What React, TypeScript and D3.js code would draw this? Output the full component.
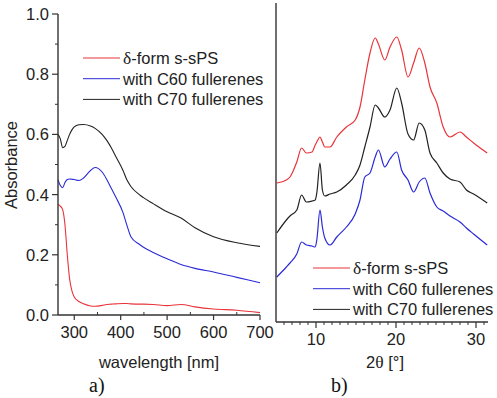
import * as d3 from 'd3'

// UV-vis absorbance (panel a)
const wavelength = [265, 270, 275, 280, 285, 290, 295, 300, 310, 320, 335, 345, 360, 370, 380, 390, 405, 413, 422, 440, 449, 470, 500, 530, 560, 600, 650, 700]
const absPS = [0.367, 0.362, 0.35, 0.3, 0.2, 0.12, 0.08, 0.06, 0.045, 0.037, 0.03, 0.029, 0.032, 0.035, 0.036, 0.037, 0.038, 0.038, 0.037, 0.036, 0.036, 0.035, 0.031, 0.035, 0.027, 0.02, 0.016, 0.008]
const absC60 = [0.45, 0.43, 0.423, 0.44, 0.45, 0.452, 0.451, 0.45, 0.447, 0.455, 0.48, 0.49, 0.475, 0.45, 0.42, 0.39, 0.34, 0.3, 0.26, 0.235, 0.225, 0.208, 0.187, 0.168, 0.155, 0.143, 0.125, 0.107]
const absC70 = [0.6, 0.585, 0.556, 0.56, 0.58, 0.6, 0.615, 0.625, 0.632, 0.633, 0.628, 0.62, 0.6, 0.58, 0.555, 0.525, 0.48, 0.45, 0.427, 0.4, 0.39, 0.37, 0.343, 0.322, 0.29, 0.26, 0.24, 0.228]

// XRD patterns (panel b), intensity in a.u.
const twoTheta = [5.1, 6.3, 6.75, 7.6, 8.2, 8.8, 9.5, 9.9, 10.1, 10.5, 10.8, 11.1, 11.75, 12.6, 13.8, 14.9, 15.5, 16.1, 16.75, 17.4, 17.8, 18.6, 19.25, 20.1, 20.7, 21.5, 22.2, 22.9, 23.6, 24.25, 25.1, 25.9, 26.75, 28, 28.8, 29.7, 31.4]
const xrdPS = [139, 142, 145, 160, 174, 169, 170, 177, 180, 185, 180, 175, 175, 185, 195, 202, 215, 242, 269, 284, 278, 262, 275, 285, 272, 245, 259, 274, 259, 235, 219, 195, 185, 190, 185, 179, 169]
const xrdC70 = [89, 102, 106, 112, 127, 120, 121, 122, 129, 159, 132, 126, 128, 130, 137, 147, 157, 175, 195, 217, 214, 205, 212, 234, 219, 188, 182, 199, 192, 169, 159, 149, 143, 140, 132, 128, 119]
const xrdC60 = [45, 55, 59, 68, 80, 77, 76, 75, 82, 112, 95, 84, 77, 85, 95, 108, 122, 145, 149, 165, 172, 155, 163, 170, 152, 142, 130, 140, 144, 129, 115, 111, 106, 100, 94, 88, 77]

const seriesNames = ['δ-form s-sPS', 'with C60 fullerenes', 'with C70 fullerenes']
const seriesColors = ['#e8343a', '#2a2ad8', '#222222']
const absTicks = [0, 0.2, 0.4, 0.6, 0.8, 1.0]
const wlTicks = [300, 400, 500, 600, 700]
const thetaTicks = [10, 20, 30]

const font = '"Liberation Sans", Arial, sans-serif'
const serif = '"Liberation Serif", "Times New Roman", serif'
const fs = 16.5

function Legend({ x, y }: { x: number; y: number }) {
  return (
    <g>
      {seriesNames.map((name, i) => {
        const parts = name.startsWith('δ') ? ['δ', name.slice(1)] : ['', name]
        return (
          <g key={name} transform={`translate(${x},${y + i * 20.7})`}>
            <line x1={0} x2={37} y1={0} y2={0} stroke={seriesColors[i]} strokeWidth={1} />
            <text x={40} y={6} fontSize={fs} fontFamily={font} fill="#222">
              {parts[0] && <tspan fontFamily={serif} fontSize={17.5}>{parts[0]}</tspan>}
              {parts[1]}
            </text>
          </g>
        )
      })}
    </g>
  )
}

export default function App() {
  const W = 497
  const H = 398

  // panel a scales
  const xa = d3.scaleLinear().domain([265, 700]).range([58, 260])
  const ya = d3.scaleLinear().domain([0, 1]).range([315, 14])
  const lineA = (vals: number[]) =>
    d3.line<number>().x((d, i) => xa(wavelength[i])).y(d => ya(d)).curve(d3.curveMonotoneX)(vals) as string
  const minorAbs = d3.range(0.1, 1.0, 0.2)
  const minorWl = d3.range(350, 700, 100)

  // panel b scales
  const xb = d3.scaleLinear().domain([5, 31.5]).range([276, 488])
  const yb = d3.scaleLinear().domain([0, 319]).range([322, 3])
  const lineB = (vals: number[]) =>
    d3.line<number>().x((d, i) => xb(twoTheta[i])).y(d => yb(d)).curve(d3.curveMonotoneX)(vals) as string
  const minorTheta = d3.range(6, 32, 1).filter(v => v % 10 !== 0)

  const axisColor = '#333'

  return (
    <svg width={W} height={H} style={{ position: 'absolute', left: 0, top: 0, background: '#fff' }}>
      {/* panel a */}
      <g>
        {[absPS, absC60, absC70].map((s, i) => (
          <path key={i} d={lineA(s)} fill="none" stroke={seriesColors[i]} strokeWidth={1.1} />
        ))}
        <line x1={58} x2={58} y1={ya(1)} y2={ya(0)} stroke={axisColor} strokeWidth={1.4} />
        <line x1={58} x2={260} y1={ya(0)} y2={ya(0)} stroke={axisColor} strokeWidth={1.4} />
        {absTicks.map(t => (
          <g key={t}>
            <line x1={52} x2={58} y1={ya(t)} y2={ya(t)} stroke={axisColor} strokeWidth={1.2} />
            <text x={49} y={ya(t) + 6} textAnchor="end" fontSize={fs} fontFamily={font} fill="#222">
              {d3.format('.1f')(t)}
            </text>
          </g>
        ))}
        {minorAbs.map(t => (
          <line key={t} x1={55} x2={58} y1={ya(t)} y2={ya(t)} stroke={axisColor} strokeWidth={1} />
        ))}
        {wlTicks.map(t => (
          <g key={t}>
            <line x1={xa(t)} x2={xa(t)} y1={ya(0)} y2={ya(0) + 5} stroke={axisColor} strokeWidth={1.2} />
            <text x={xa(t)} y={338} textAnchor="middle" fontSize={fs} fontFamily={font} fill="#222">
              {t}
            </text>
          </g>
        ))}
        {minorWl.map(t => (
          <line key={t} x1={xa(t)} x2={xa(t)} y1={ya(0)} y2={ya(0) - 3} stroke={axisColor} strokeWidth={1} />
        ))}
        <text x={159} y={368} textAnchor="middle" fontSize={fs} fontFamily={font} fill="#222">
          wavelength [nm]
        </text>
        <text transform="translate(17,165) rotate(-90)" textAnchor="middle" fontSize={fs} fontFamily={font} fill="#222">
          Absorbance
        </text>
        <Legend x={83} y={58} />
        <text x={89} y={392} fontSize={20} fontFamily={serif} fill="#111">a)</text>
      </g>

      {/* panel b */}
      <g>
        {[xrdPS, xrdC60, xrdC70].map((s, i) => (
          <path key={i} d={lineB(s)} fill="none" stroke={seriesColors[i]} strokeWidth={1.2} />
        ))}
        <line x1={276} x2={276} y1={3} y2={yb(0)} stroke={axisColor} strokeWidth={1.4} />
        <line x1={276} x2={488} y1={yb(0)} y2={yb(0)} stroke={axisColor} strokeWidth={1.4} />
        {thetaTicks.map(t => (
          <g key={t}>
            <line x1={xb(t)} x2={xb(t)} y1={yb(0)} y2={yb(0) + 6} stroke={axisColor} strokeWidth={1.2} />
            <text x={xb(t)} y={345} textAnchor="middle" fontSize={fs} fontFamily={font} fill="#222">
              {t}
            </text>
          </g>
        ))}
        {minorTheta.map(t => (
          <line key={t} x1={xb(t)} x2={xb(t)} y1={yb(0)} y2={yb(0) + 3} stroke={axisColor} strokeWidth={1} />
        ))}
        <text x={385} y={368} textAnchor="middle" fontSize={fs} fontFamily={font} fill="#222">
          2<tspan fontFamily={serif} fontSize={17.5}>θ</tspan> [°]
        </text>
        <Legend x={313} y={268} />
        <text x={331} y={392} fontSize={20} fontFamily={serif} fill="#111">b)</text>
      </g>
    </svg>
  )
}
